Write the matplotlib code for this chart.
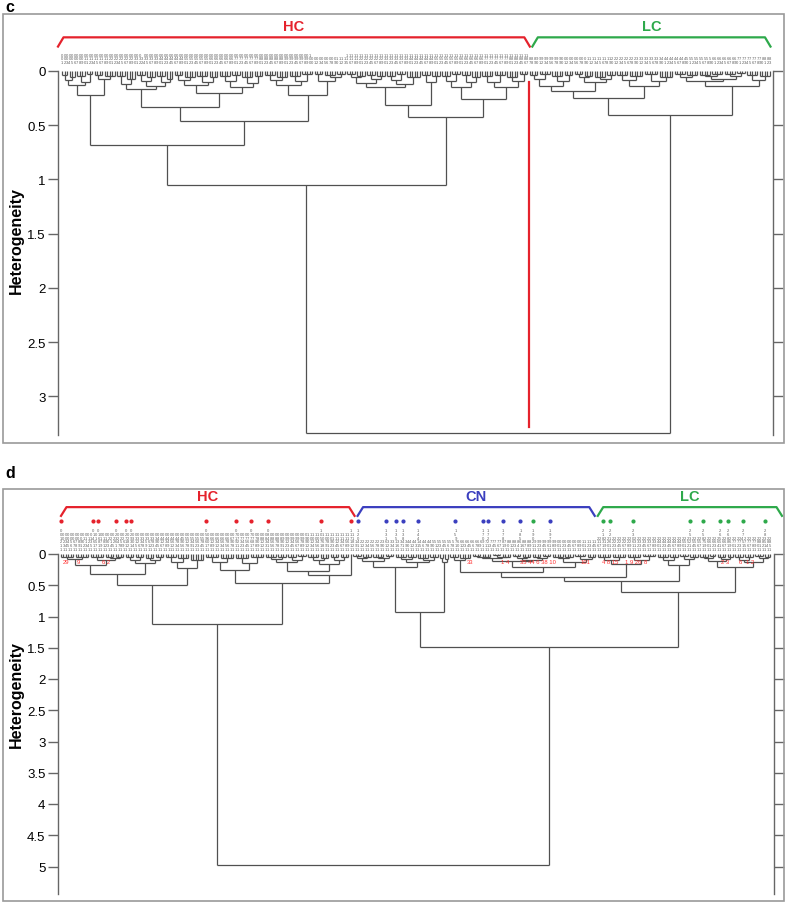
import numpy as np
import matplotlib
matplotlib.use("Agg")
import matplotlib.pyplot as plt
from matplotlib.collections import LineCollection
from matplotlib.patches import Rectangle

plt.rcParams['font.family'] = ['Liberation Sans', 'DejaVu Sans']

RED = '#e5222c'
BLUE = '#3b3fbf'
GREEN = '#2ea94b'
LINE = '#505050'

# ---------------- panel c tree: [height, left, right], (n_leaves, height) ----------------
A1a = [0.13, [0.08, (3, 0.04), (3, 0.06)], [0.10, (4, 0.05), (3, 0.03)]]
A1b = [0.07, (4, 0.04), (5, 0.05)]
A2aL = [0.17, [0.12, (4, 0.05), (4, 0.07)], [0.14, [0.09, (4, 0.04), (4, 0.06)], [0.10, (4, 0.05), (3, 0.07)]]]
A2aR = [0.20, [0.13, [0.08, (4, 0.04), (5, 0.06)], [0.10, (5, 0.05), (4, 0.06)]],
        [0.15, [0.09, (5, 0.05), (4, 0.04)], [0.11, (5, 0.06), (4, 0.05)]]]
A2bL = [0.13, [0.08, (5, 0.04), (5, 0.06)], [0.09, (5, 0.05), (5, 0.03)]]
A2bR = [0.09, (4, 0.03), [0.06, (5, 0.04), (4, 0.03)]]
B1L = [0.145, [0.11, [0.06, (4, 0.03), (4, 0.05)], [0.07, (4, 0.04), (4, 0.05)]],
       [0.12, [0.08, (4, 0.05), (4, 0.03)], (6, 0.06)]]
B1R = [0.10, (4, 0.04), (4, 0.05)]
B2L = [0.145, [0.09, (4, 0.05), (4, 0.03)], [0.10, (4, 0.04), (4, 0.06)]]
B2R = [0.145, [0.10, (5, 0.05), (5, 0.04)], [0.09, (5, 0.06), (4, 0.03)]]
hc_c = [1.05, [0.68, [0.22, A1a, A1b], [0.46, [0.33, A2aL, A2aR], [0.22, A2bL, A2bR]]],
        [0.42, [0.31, B1L, B1R], [0.26, B2L, B2R]]]
LC1L = [0.18, [0.135, [0.07, (4, 0.04), (5, 0.03)], [0.09, (5, 0.05), (4, 0.04)]],
        [0.10, [0.06, (4, 0.03), (4, 0.05)], [0.07, (5, 0.06), (4, 0.04)]]]
LC1R = [0.135, [0.08, (5, 0.04), (6, 0.05)], [0.09, (6, 0.03), (6, 0.06)]]
LC2L = [0.095, [0.06, (5, 0.03), (5, 0.04)], [0.07, [0.05, (5, 0.04), (5, 0.03)], [0.05, (5, 0.03), (4, 0.02)]]]
LC2R = [0.08, (5, 0.04), (5, 0.05)]
lc_c = [0.41, [0.25, LC1L, LC1R], [0.14, LC2L, LC2R]]
tree_c = [3.34, hc_c, lc_c]
c_hc_last = 186
c_groups = [("HC", -1.6, 187.0, RED), ("LC", 188.0, 283.2, GREEN)]
c_short_labels = [32] + list(range(100, 114))
c_yticks = [0, 0.5, 1, 1.5, 2, 2.5, 3]
c_ymax = 3.355

# ---------------- panel d tree ----------------
HCLLL = [0.18, [0.08, (6, 0.04), (6, 0.05)], [0.10, (6, 0.05), [0.07, (4, 0.04), (4, 0.05)]]]
HCLLR = [0.15, [0.09, (4, 0.05), (4, 0.04)], [0.10, (4, 0.06), (4, 0.04)]]
HCLR = [0.23, [0.12, (5, 0.05), (5, 0.07)], (6, 0.09)]
HCRL = [0.25, [0.12, (6, 0.05), (6, 0.07)], [0.15, (6, 0.06), (6, 0.05)]]
HCRRL = [0.27, [0.13, [0.08, (5, 0.04), (4, 0.05)], [0.09, (4, 0.05), (4, 0.03)]],
         [0.16, [0.09, (5, 0.05), (4, 0.06)], [0.10, (4, 0.04), (4, 0.05)]]]
hc_d = [1.12, [0.50, [0.32, HCLLL, HCLLR], HCLR], [0.46, HCRL, [0.34, HCRRL, (1, 0)]]]
CNL = [0.20, [0.11, [0.06, (4, 0.03), (4, 0.05)], [0.07, (5, 0.04), (4, 0.03)]],
       [0.13, [0.08, (5, 0.05), (4, 0.04)], [0.09, (5, 0.06), (4, 0.04)]]]
CNR = [0.13, (2, 0.06), (2, 0.08)]
N519 = [0.11, [0.07, [0.05, (4, 0.03), (4, 0.04)], [0.05, (4, 0.02), (4, 0.04)]],
        [0.09, [0.06, (4, 0.03), (4, 0.05)], [0.06, (4, 0.04), (4, 0.03)]]]
N575 = [0.12, [0.07, (5, 0.04), (4, 0.05)], [0.08, (5, 0.03), (4, 0.05)]]
RLLR = [0.16, [0.09, (6, 0.04), (6, 0.05)], [0.10, (6, 0.05), (6, 0.03)]]
RLR = [0.17, [0.09, (5, 0.04), (4, 0.05)], [0.08, (4, 0.03), (4, 0.05)]]
RR = [0.21, [0.11, [0.07, (4, 0.04), (3, 0.03)], [0.08, (4, 0.05), (3, 0.04)]],
      [0.13, [0.09, (4, 0.05), (4, 0.04)], [0.07, (4, 0.03), (3, 0.05)]]]
rest_d = [0.60, [0.43, [0.36, [0.28, [0.10, (4, 0.04), (5, 0.06)], [0.20, N519, N575]], RLLR], RLR], RR]
tree_d = [4.98, hc_d, [1.49, [0.92, CNL, CNR], rest_d]]
d_hc_last = 117
d_cn_last = 214
d_groups = [("HC", 0.0, 117.6, RED), ("CN", 118.8, 213.8, BLUE), ("LC", 215.0, 288.8, GREEN)]
d_red_dots = [0, 13, 15, 22, 26, 28, 58, 70, 76, 83, 104, 116]
d_blue_dots = [119, 130, 134, 137, 143, 158, 169, 171, 177, 184, 196]
d_green_dots = [189, 217, 220, 229, 252, 257, 264, 267, 273, 282]
d_red_text = ["29", "9", "6 2", "33", "1 4", "35 44 6 38 10", "101", "4 8 15", "1 9 26", "8", "2 3", "6", "1 2"]
d_red_leaf = [2, 7, 18, 164, 178, 191, 210, 220, 229, 234, 266, 272, 276]
d_yticks = [0, 0.5, 1, 1.5, 2, 2.5, 3, 3.5, 4, 4.5, 5]
d_ymax = 5.44


def walk(node, segs, start):
    if isinstance(node, tuple):
        n, h = node
        if n == 1:
            return float(start), 0.0, start + 1
        xs = np.arange(start, start + n)
        for x in xs:
            segs.append([(x, 0), (x, h)])
        segs.append([(xs[0], h), (xs[-1], h)])
        return xs.mean(), h, start + n
    h, a, b = node
    xa, ha, s1 = walk(a, segs, start)
    xb, hb, s2 = walk(b, segs, s1)
    segs.append([(xa, ha), (xa, h)])
    segs.append([(xb, hb), (xb, h)])
    segs.append([(xa, h), (xb, h)])
    return (xa + xb) / 2, h, s2


def fmt(v):
    return ('%g' % v)


def setup_axes(ax, ymax, yticks, ytop, xlim):
    ax.set_xlim(*xlim)
    ax.set_ylim(ymax, ytop)
    for s in ['top', 'bottom']:
        ax.spines[s].set_visible(False)
    for s in ['left', 'right']:
        ax.spines[s].set_bounds(0, ymax)
        ax.spines[s].set_color('#666666')
        ax.spines[s].set_linewidth(1.0)
    ax.set_xticks([])
    ax.set_yticks(yticks)
    ax.set_yticklabels([fmt(v) for v in yticks], fontsize=9.5)
    ax.tick_params(axis='y', left=True, right=True, labelright=False, direction='out',
                   length=7, width=1.0, color='#666666', pad=2)
    ax.patch.set_visible(False)


def bracket(ax, x0, x1, ylow, ytop, dx, color, label, ylab, fs):
    ax.plot([x0, x0 + dx, x1 - dx, x1], [ylow, ytop, ytop, ylow], color=color, lw=1.6,
            solid_joinstyle='round', clip_on=False)
    ax.text((x0 + x1) / 2, ylab, label, color=color, fontsize=fs, fontweight='bold',
            ha='center', va='center')


def leaf_label(ax, i, lab, y):
    # sample id written top-to-bottom above its leaf
    ax.text(i, y, '\n'.join(lab), fontsize=3.0, color='#5e5e5e', linespacing=0.9,
            ha='center', va='bottom', family='Liberation Sans')


fig = plt.figure(figsize=(7.87, 9.04), dpi=100)
W, H = 787.0, 904.0

# panel boxes and letters
fig.add_artist(Rectangle((3 / W, 1 - 444 / H), 781 / W, 429 / H, transform=fig.transFigure,
                         fill=False, ec='#9a9a9a', lw=1.2))
fig.add_artist(Rectangle((3 / W, 1 - 902 / H), 781 / W, 412 / H, transform=fig.transFigure,
                         fill=False, ec='#9a9a9a', lw=1.2))
fig.text(5 / W, 1 - 7 / H, 'c', fontsize=11.5, fontweight='bold', va='center', ha='left')
fig.text(5 / W, 1 - 474 / H, 'd', fontsize=11.5, fontweight='bold', va='center', ha='left')

# ---------------- panel c ----------------
axc = fig.add_axes([58 / W, 1 - 436 / H, 715 / W, 416 / H])
segs = []
walk(tree_c, segs, 0)
nc = 284
sc = 708 / (nc - 1)
setup_axes(axc, c_ymax, c_yticks, -0.479, (-4 / sc, nc - 1 + 3 / sc))
axc.add_collection(LineCollection(segs, colors=LINE, linewidths=0.9))
axc.plot([c_hc_last + 0.6] * 2, [0.1, 3.28], color=RED, lw=1.6)
for name, a, b, col in c_groups:
    bracket(axc, a, b, -0.225, -0.31, 2.2, col, name, -0.415, 10.5)
for i in range(nc):
    if i <= c_hc_last and i not in c_short_labels:
        lab = '%03d' % (i + 1)
    else:
        lab = '%02d' % (i % 100)
    leaf_label(axc, i, lab, -0.065)
axc.text(-0.058, 0.47, 'Heterogeneity', transform=axc.transAxes, rotation=90,
         fontsize=11.5, fontweight='bold', ha='center', va='center')

# ---------------- panel d ----------------
axd = fig.add_axes([58 / W, 1 - 895 / H, 716 / W, 401 / H])
segs = []
walk(tree_d, segs, 0)
nd = 285
sd = 709 / (nd - 1)
setup_axes(axd, d_ymax, d_yticks, -0.976, (-3 / sd, nd - 1 + 4 / sd))
axd.add_collection(LineCollection(segs, colors=LINE, linewidths=0.9))
for name, a, b, col in d_groups:
    bracket(axd, a, b, -0.61, -0.75, 2.2, col, name, -0.93, 10.5)
dotted = set(d_red_dots + d_blue_dots + d_green_dots)
for i in range(nd):
    k = i + 1
    if i in dotted:
        lab = '%03d%d11' % (k, k % 9 + 1)
    elif i <= d_hc_last:
        lab = '%03d%d1' % (k, k % 9 + 1)
    elif i <= d_cn_last:
        lab = '%02d1' % (k % 100)
    else:
        lab = '%03d1' % k
    leaf_label(axd, i, lab, -0.05)
for idx, col in [(d_red_dots, RED), (d_blue_dots, BLUE), (d_green_dots, GREEN)]:
    axd.scatter(idx, [-0.53] * len(idx), s=9, color=col, zorder=3, clip_on=False, linewidths=0)
for t, i in zip(d_red_text, d_red_leaf):
    axd.text(i, 0.12, t, color='#ff3030', fontsize=4.2, ha='center', va='center')
axd.text(-0.058, 0.50, 'Heterogeneity', transform=axd.transAxes, rotation=90,
         fontsize=11.5, fontweight='bold', ha='center', va='center')

fig.savefig('out.png', dpi=100)
